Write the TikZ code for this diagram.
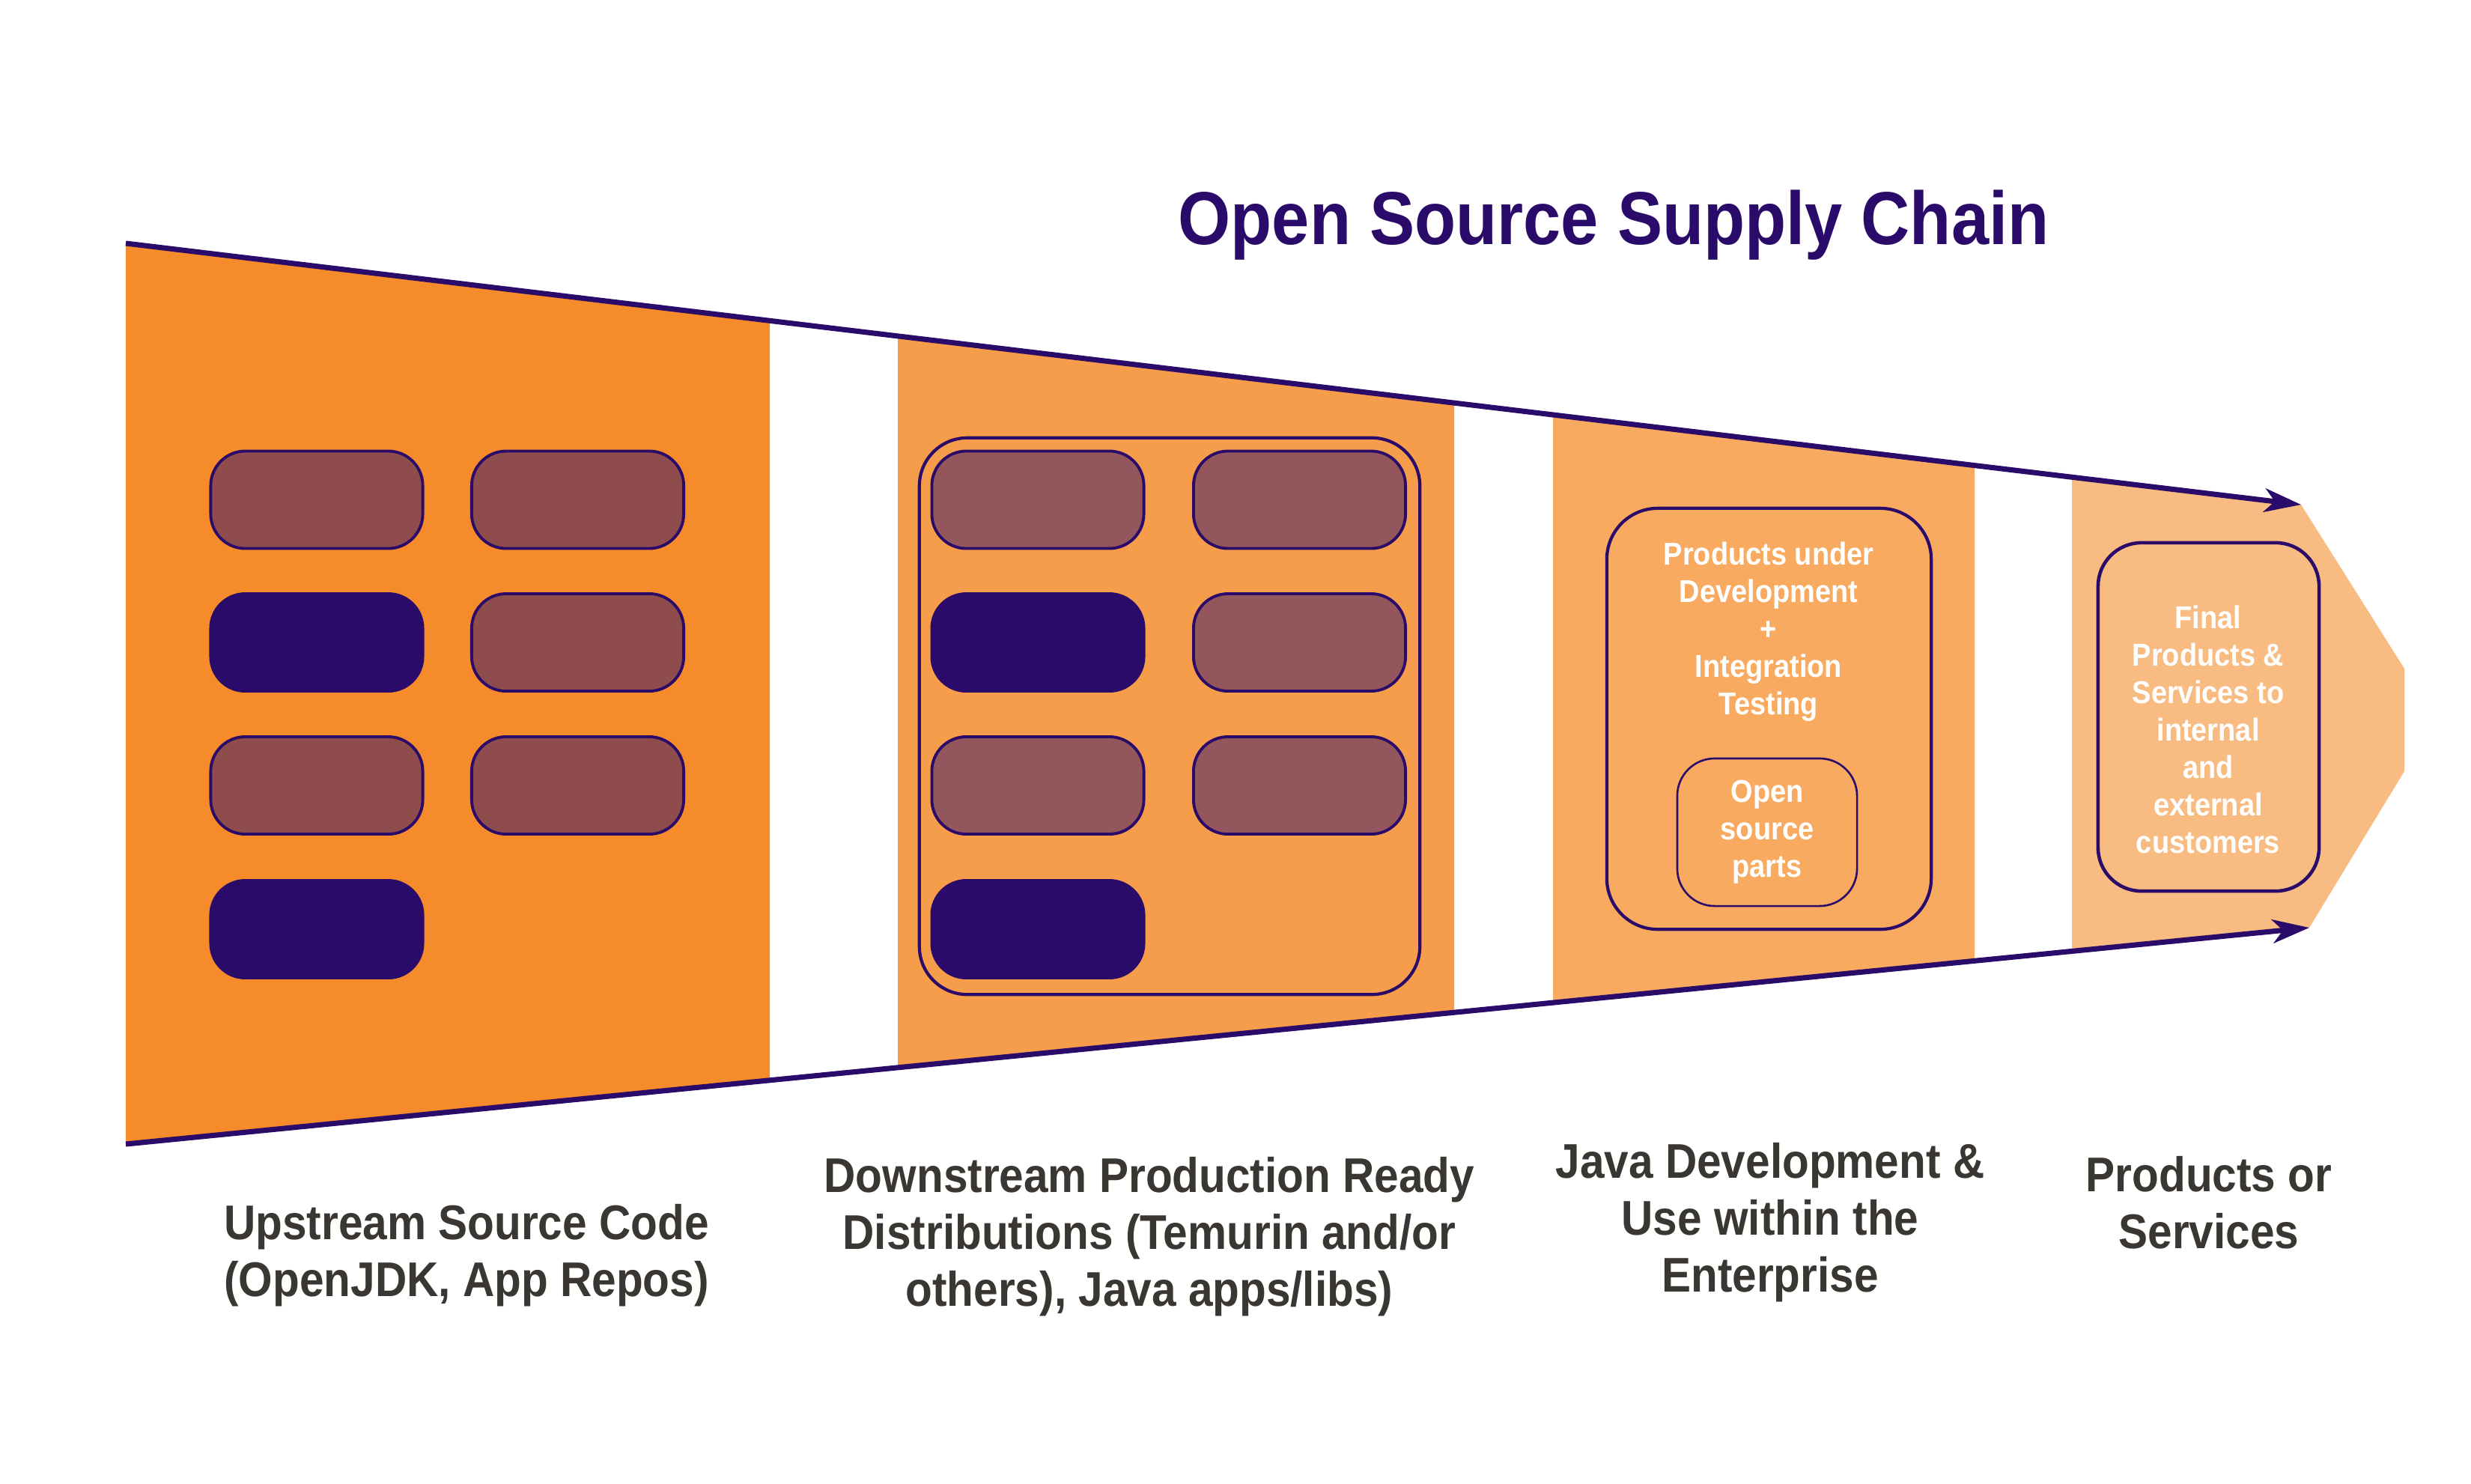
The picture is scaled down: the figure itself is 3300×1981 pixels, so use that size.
\documentclass[tikz,border=0pt]{standalone}
\usepackage{fontspec}
\setmainfont[FakeStretch=0.9]{Liberation Sans}
\usetikzlibrary{arrows.meta}
\definecolor{ink}{HTML}{2B0B69}
\definecolor{stageA}{HTML}{F68B2B}
\definecolor{stageB}{HTML}{F69D4B}
\definecolor{stageC}{HTML}{F8AA60}
\definecolor{stageD}{HTML}{F8BB82}
\definecolor{partA}{HTML}{8F4C4C}
\definecolor{partB}{HTML}{93565C}
\definecolor{caption}{HTML}{3A3733}

\begin{document}
\begin{tikzpicture}[x=0.01cm, y=-0.01cm,
  part/.style={draw=ink, line width=1.1pt, rounded corners=0.46cm, minimum width=2.83cm, minimum height=1.3cm, inner sep=0pt},
  partdark/.style={part, fill=ink},
  frame/.style={draw=ink, line width=1.2pt, inner sep=0pt},
  flow/.style={ink, line width=2pt, -{Stealth[length=14pt, width=9pt, inset=4pt]}},
  stagelabel/.style={text=caption, font=\fontsize{18.5}{21.6}\selectfont\bfseries, align=center},
  boxtext/.style={text=white, font=\fontsize{12}{14.2}\selectfont\bfseries, align=center}]
\fill[white] (0,0) rectangle (3300,1981);
\useasboundingbox (0,0) rectangle (3300,1981);

\coordinate (topL) at (168,325);
\coordinate (topR) at (3073,674);
\coordinate (botL) at (168,1528);
\coordinate (botR) at (3084,1239);

\fill[stageA] (topL) -- (1028,428.3) -- (1028,1442.2) -- (botL) -- cycle;
\fill[stageB] (1199,448.9) -- (1942,538.1) -- (1942,1351.0) -- (1199,1425.1) -- cycle;
\fill[stageC] (2074,554.0) -- (2637,621.6) -- (2637,1281.6) -- (2074,1337.8) -- cycle;
\fill[stageD] (2767,637.2) -- (topR) -- (3211,893) -- (3211,1030) -- (botR) -- (2767,1268.6) -- cycle;

\node[text=ink, font=\fontsize{28.5}{34}\selectfont\bfseries, anchor=base] (title) at (2155,326) {Open Source Supply Chain};

\node[part, fill=partA] (up1) at (423,667.5) {};
\node[part, fill=partA] (up2) at (771.5,667.5) {};
\node[partdark] (up3) at (423,858) {};
\node[part, fill=partA] (up4) at (771.5,858) {};
\node[part, fill=partA] (up5) at (423,1049) {};
\node[part, fill=partA] (up6) at (771.5,1049) {};
\node[partdark] (up7) at (423,1241) {};

\node[frame, rounded corners=0.64cm, minimum width=6.68cm, minimum height=7.43cm] (dist) at (1562,956.5) {};
\node[part, fill=partB] (dn1) at (1386,667.5) {};
\node[part, fill=partB] (dn2) at (1735.5,667.5) {};
\node[partdark] (dn3) at (1386,858) {};
\node[part, fill=partB] (dn4) at (1735.5,858) {};
\node[part, fill=partB] (dn5) at (1386,1049) {};
\node[part, fill=partB] (dn6) at (1735.5,1049) {};
\node[partdark] (dn7) at (1386,1241) {};

\node[frame, rounded corners=0.68cm, minimum width=4.33cm, minimum height=5.62cm] (devbox) at (2362.5,960) {};
\node[boxtext] (devtext) at (2362,844) {Products under\\Development\\+\\Integration\\Testing};
\node[frame, line width=0.75pt, rounded corners=0.5cm, minimum width=2.4cm, minimum height=1.97cm, boxtext] (oss) at (2360,1111.5) {Open\\source\\parts};

\node[frame, line width=1.3pt, rounded corners=0.58cm, minimum width=2.95cm, minimum height=4.65cm] (finalbox) at (2949.5,957.5) {};
\node[boxtext] (finaltext) at (2949,974.5) {Final\\Products \&\\Services to\\internal\\and\\external\\customers};

\draw[flow] (topL) -- (topR);
\draw[flow] (botL) -- (botR);

\node[stagelabel] (upstream) at (623,1677) {Upstream Source Code\\(OpenJDK, App Repos)};
\node[stagelabel] (downstream) at (1535,1652) {Downstream Production Ready\\Distributions (Temurin and/or\\others), Java apps/libs)};
\node[stagelabel] (enterprise) at (2364,1632.5) {Java Development \&\\Use within the\\Enterprise};
\node[stagelabel] (products) at (2950,1606) {Products or\\Services};
\end{tikzpicture}
\end{document}
